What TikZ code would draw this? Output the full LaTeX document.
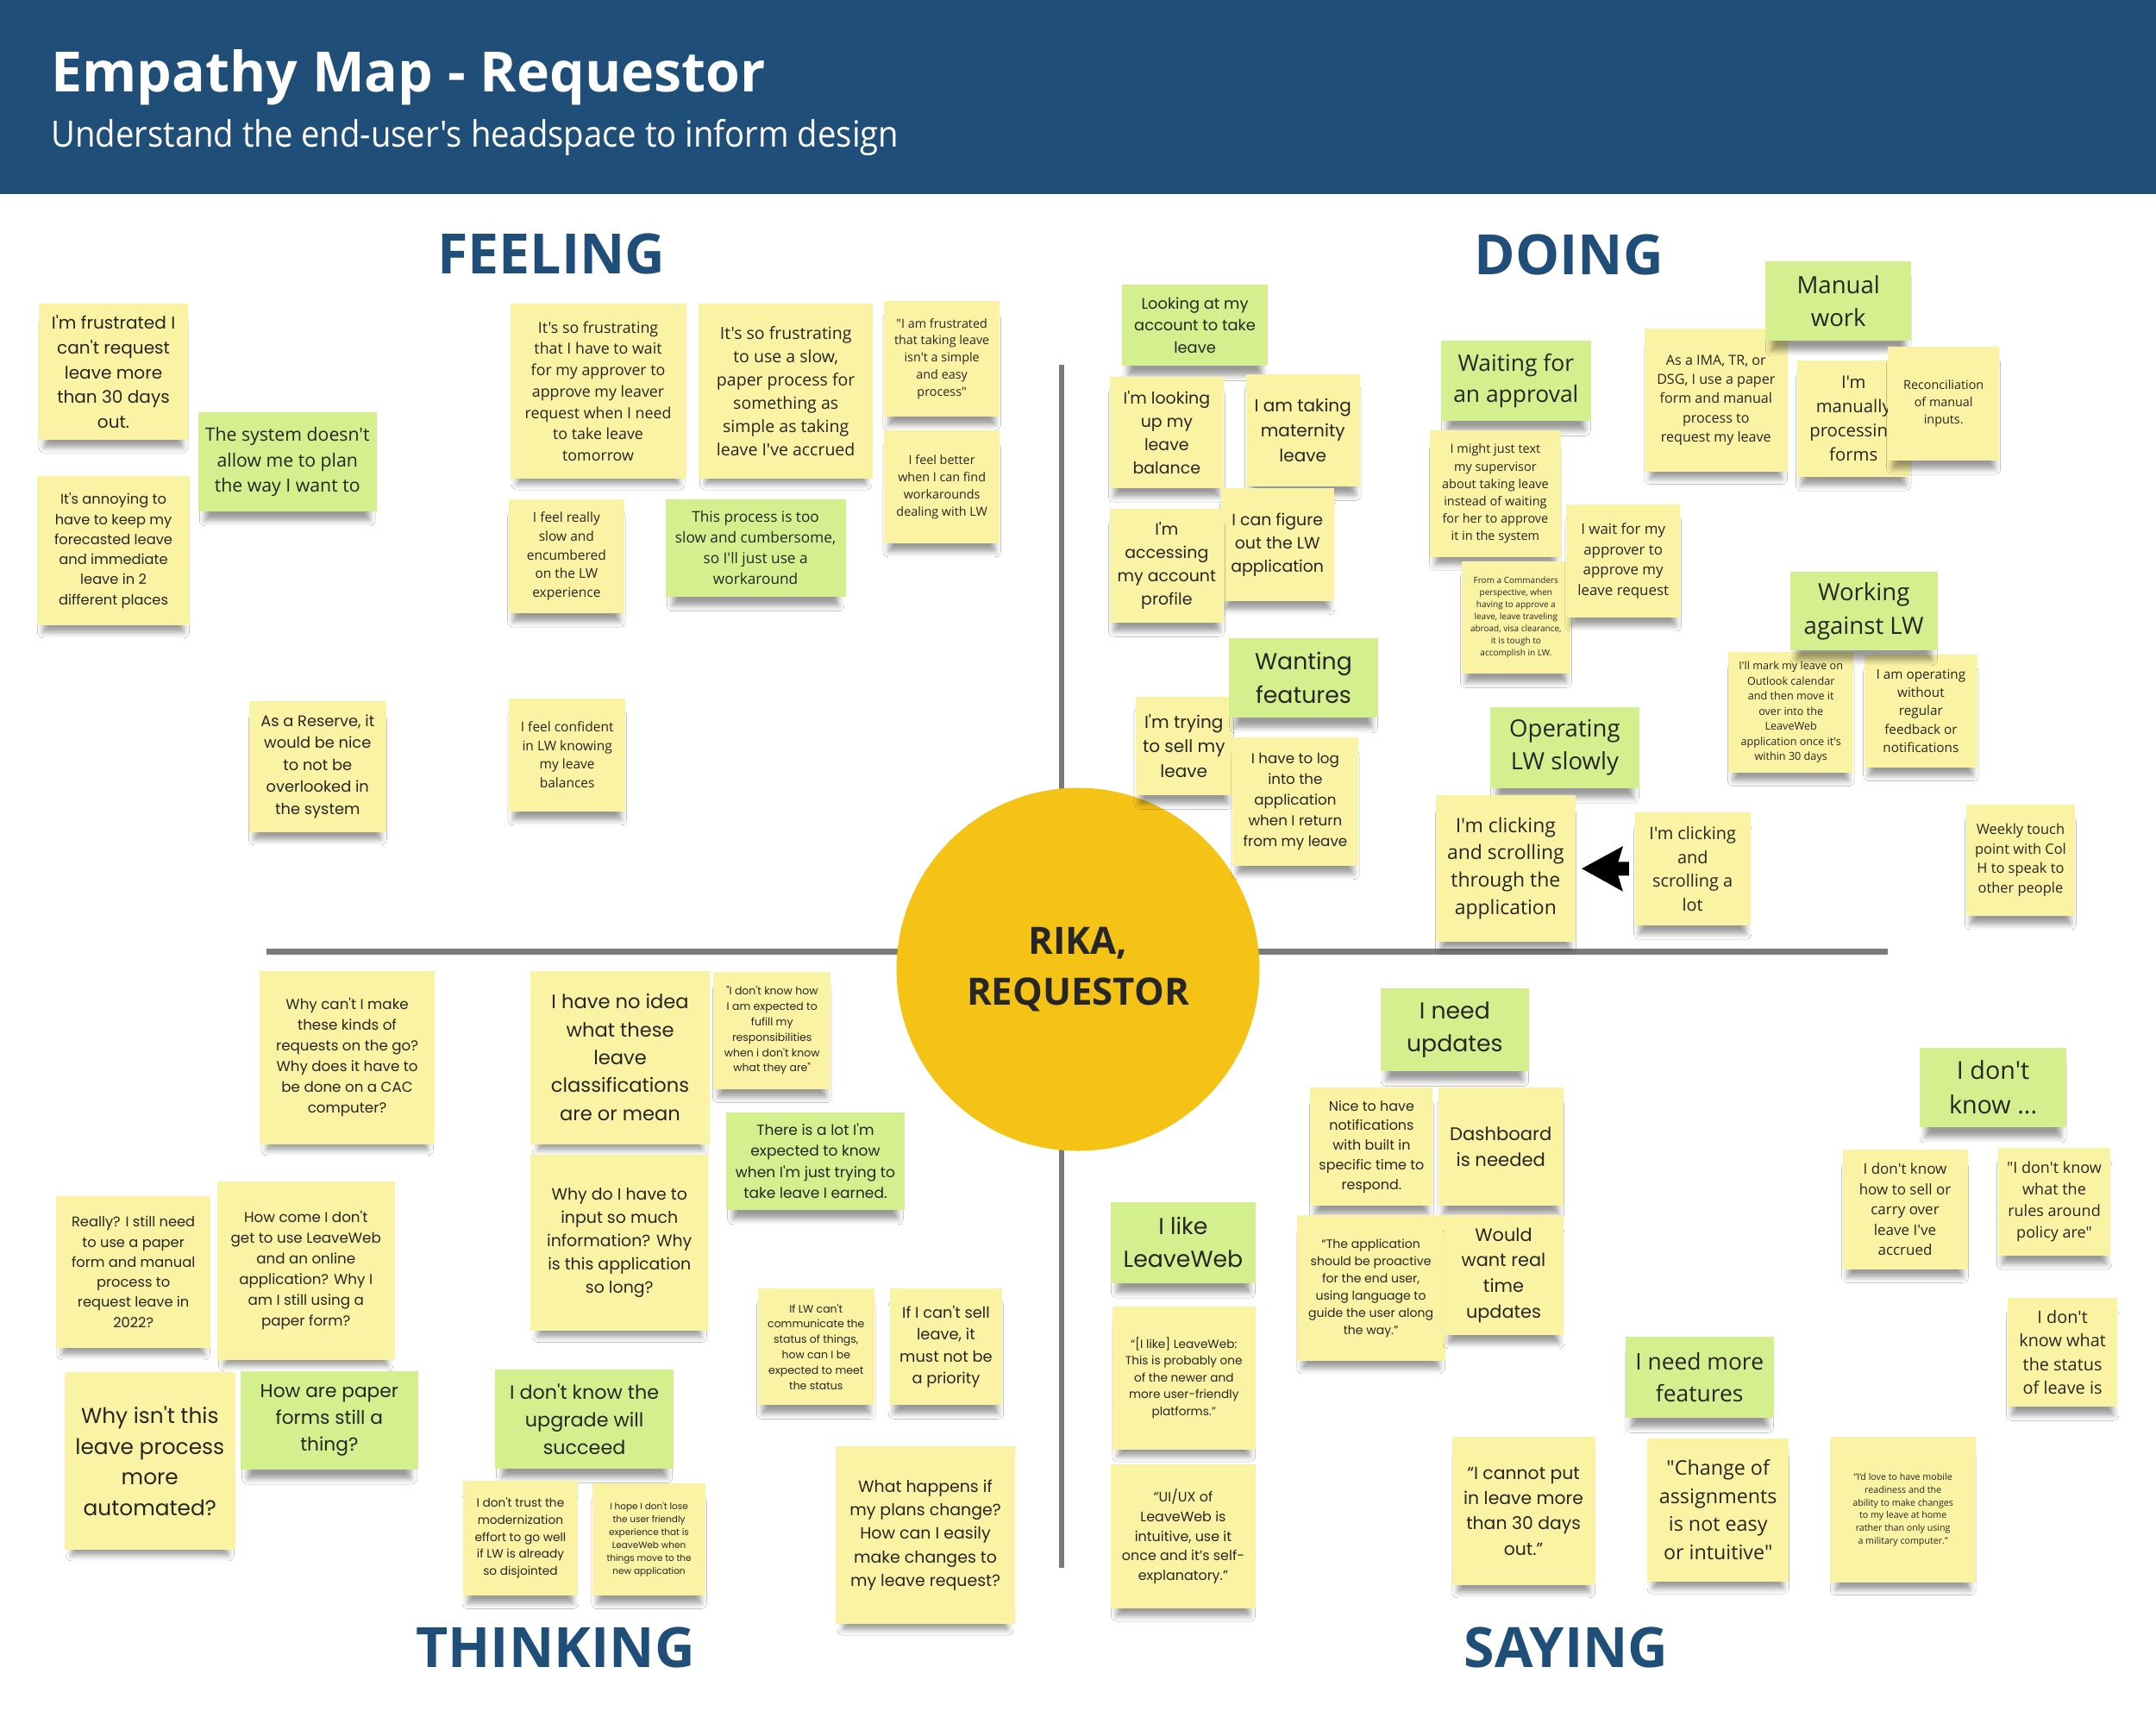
\documentclass[tikz,border=0pt]{standalone}
\usepackage{fontspec}
\setmainfont{Open Sans}[Ligatures=TeXOff]
\newfontfamily\geofont{Poppins}[Scale=0.97,Ligatures=TeXOff]
\newfontfamily\condfont{Open Sans}[FakeStretch=0.91,Ligatures=TeXOff]
\usetikzlibrary{arrows.meta,shadows.blur}
\definecolor{headblue}{HTML}{1F4E79}
\definecolor{noteyellow}{HTML}{FBF3A4}
\definecolor{notegreen}{HTML}{D4F08E}
\definecolor{notetext}{HTML}{262626}
\definecolor{personagold}{HTML}{F5C216}
\definecolor{axisgray}{HTML}{7A7A7A}

\begin{document}
\begin{tikzpicture}[x=0.02cm, y=-0.02cm,
  note/.style={fill=noteyellow, text=notetext, align=center, inner sep=0pt,
    blur shadow={shadow xshift=0pt, shadow yshift=-2mm, shadow scale=0.92, shadow blur radius=0.9mm, shadow opacity=40}},
  hint/.style={note, fill=notegreen},
  geo/.style={execute at begin node=\geofont},
  sz/.style 2 args={minimum width=#1*0.02cm, minimum height=#2*0.02cm},
  fs/.code={\pgfmathsetmacro\fsz{#1*0.41}\pgfmathsetmacro\fsb{#1*0.569}%
    \edef\fsset{\noexpand\fontsize{\fsz}{\fsb}\noexpand\selectfont}%
    \pgfkeysalso{/tikz/font/.expand once=\fsset}},
  quad/.style={text=headblue, inner sep=0pt, font=\bfseries\fontsize{23}{28}\selectfont},
  axis/.style={draw=axisgray, line width=0.8mm}]
  \useasboundingbox (0,0) rectangle (1568,1244);
  \fill[white] (0,0) rectangle (1568,1244);
  \fill[headblue] (0,0) rectangle (1568,141);
  \node[anchor=base west, inner sep=0pt, text=white, font=\bfseries\fontsize{23}{28}\selectfont] (title) at (37,67) {Empathy Map - Requestor};
  \node[anchor=base west, inner sep=0pt, text=white, font=\condfont\fontsize{15}{18}\selectfont] (subtitle) at (37,107) {Understand the end-user's headspace to inform design};

  \draw[axis] (194,692) -- (1373,692);
  \draw[axis] (772,265) -- (772,1140);
  \node[circle, fill=personagold, minimum size=264*0.02cm, align=center, text=notetext,
    font=\bfseries\fontsize{15.6}{21}\selectfont] (persona) at (784,705) {RIKA,\\REQUESTOR};

  \node[quad] (feeling) at (401,185) {FEELING};
  \node[quad] (doing) at (1141,185) {DOING};
  \node[quad] (thinking) at (404,1198) {THINKING};
  \node[quad] (saying) at (1139,1198) {SAYING};

  \node[note, geo, sz={109}{99}, fs=18] (f1) at (82.5,270.5) {I'm frustrated I\\can't request\\leave more\\than 30 days\\out.};
  \node[hint, sz={130}{72}, fs=18.5] (f2) at (209,336) {The system doesn't\\allow me to plan\\the way I want to};
  \node[note, geo, sz={111}{109}, fs=14.6] (f3) at (82.5,400.5) {It's annoying to\\have to keep my\\forecasted leave\\and immediate\\leave in 2\\different places};
  \node[note, geo, sz={100}{95}, fs=16] (f4) at (231,557.5) {As a Reserve, it\\would be nice\\to not be\\overlooked in\\the system};
  \node[note, sz={128}{127}, fs=15.5] (f5) at (435,284.5) {It's so frustrating\\that I have to wait\\for my approver to\\approve my leaver\\request when I need\\to take leave\\tomorrow};
  \node[note, sz={127}{127}, fs=17] (f6) at (571.5,284.5) {It's so frustrating\\to use a slow,\\paper process for\\something as\\simple as taking\\leave I've accrued};
  \node[note, sz={84}{84}, fs=12.5] (f7) at (685,261) {"I am frustrated\\that taking leave\\isn't a simple\\and easy\\process"};
  \node[note, sz={84}{82}, fs=12.5] (f8) at (685,354) {I feel better\\when I can find\\workarounds\\dealing with LW};
  \node[note, sz={84}{83}, fs=13.5] (f9) at (412,404.5) {I feel really\\slow and\\encumbered\\on the LW\\experience};
  \node[hint, sz={131}{71}, fs=15] (f10) at (549.5,398.5) {This process is too\\slow and cumbersome,\\so I'll just use a\\workaround};
  \node[note, sz={85}{82}, fs=13.5] (f11) at (412.5,549) {I feel confident\\in LW knowing\\my leave\\balances};

  \node[hint, geo, sz={106}{59}, fs=16] (d1) at (869,236.5) {Looking at my\\account to take\\leave};
  \node[note, geo, sz={83}{81}, fs=17] (d2) at (848.5,314.5) {I'm looking\\up my\\leave\\balance};
  \node[note, geo, sz={83}{82}, fs=18] (d3) at (947.5,313) {I am taking\\maternity\\leave};
  \node[note, geo, sz={82}{82}, fs=17] (d5) at (929,396) {I can figure\\out the LW\\application};
  \node[note, geo, sz={83}{83}, fs=17] (d4) at (848.5,411.5) {I'm\\accessing\\my account\\profile};
  \node[note, geo, sz={70}{71}, fs=18] (d7) at (861,542.5) {I'm trying\\to sell my\\leave};
  \node[note, geo, sz={92}{94}, fs=15] (d8) at (942,583) {I have to log\\into the\\application\\when I return\\from my leave};
  \node[hint, geo, sz={108}{58}, fs=24] (d6) at (948,493) {Wanting\\features};
  \node[hint, sz={109}{58}, fs=23] (d9) at (1102.5,277) {Waiting for\\an approval};
  \node[note, sz={95}{92}, fs=12.6] (d10) at (1087.5,359) {I might just text\\my supervisor\\about taking leave\\instead of waiting\\for her to approve\\it in the system};
  \node[note, sz={79}{82}, fs=8.7] (d11) at (1102.5,449) {From a Commanders\\perspective, when\\having to approve a\\leave, leave traveling\\abroad, visa clearance,\\it is tough to\\accomplish in LW.};
  \node[note, sz={83}{82}, fs=14.7] (d12) at (1180.5,408) {I wait for my\\approver to\\approve my\\leave request};
  \node[note, sz={104}{104}, fs=14] (d14) at (1248,291) {As a IMA, TR, or\\DSG, I use a paper\\form and manual\\process to\\request my leave};
  \node[hint, sz={106}{58}, fs=24] (d13) at (1337,219) {Manual\\work};
  \node[note, sz={82}{85}, fs=17.7] (d15) at (1348,304.5) {I'm\\manually\\processing\\forms};
  \node[note, sz={81}{83}, fs=12.5] (d16) at (1413.5,293.5) {Reconciliation\\of manual\\inputs.};
  \node[note, sz={91}{88}, fs=11] (d18) at (1302.5,518) {I'll mark my leave on\\Outlook calendar\\and then move it\\over into the\\LeaveWeb\\application once it's\\within 30 days};
  \node[note, sz={82}{82}, fs=13.3] (d19) at (1397,517) {I am operating\\without\\regular\\feedback or\\notifications};
  \node[hint, sz={107}{57}, fs=24] (d17) at (1355.5,444.5) {Working\\against LW};
  \node[hint, sz={108}{59}, fs=24] (d20) at (1138,543.5) {Operating\\LW slowly};
  \node[note, sz={102}{107}, fs=20] (d21) at (1095,631.5) {I'm clicking\\and scrolling\\through the\\application};
  \node[note, sz={84}{82}, fs=17.3] (d22) at (1231,632) {I'm clicking\\and\\scrolling a\\lot};
  \node[note, sz={79}{81}, fs=14.3] (d23) at (1469.5,625.5) {Weekly touch\\point with Col\\H to speak to\\other people};
  \draw[-{Stealth[length=6mm, width=6.6mm, inset=1mm, line width=0pt]}, line width=2mm,
    shorten <=0.8mm, shorten >=0.8mm] (d22) -- (d21);

  \node[note, geo, sz={127}{126}, fs=15] (t1) at (252.5,769) {Why can't I make\\these kinds of\\requests on the go?\\Why does it have to\\be done on a CAC\\computer?};
  \node[note, geo, sz={130}{126}, fs=20.3] (t2) at (451,769) {I have no idea\\what these\\leave\\classifications\\are or mean};
  \node[note, geo, sz={85}{85}, fs=11.2] (t3) at (561.5,749.5) {"I don't know how\\I am expected to\\fufill my\\responsibilities\\when i don't know\\what they are"};
  \node[hint, geo, sz={130}{71}, fs=15.3] (t4) at (593,844.5) {There is a lot I'm\\expected to know\\when I'm just trying to\\take leave I earned.};
  \node[note, geo, sz={129}{128}, fs=17] (t5) at (450.5,904) {Why do I have to\\input so much\\information? Why\\is this application\\so long?};
  \node[note, geo, sz={112}{110}, fs=14.6] (t6) at (97,925) {Really? I still need\\to use a paper\\form and manual\\process to\\request leave in\\2022?};
  \node[note, geo, sz={129}{130}, fs=15] (t7) at (222.5,924) {How come I don't\\get to use LeaveWeb\\and an online\\application? Why I\\am I still using a\\paper form?};
  \node[note, geo, sz={124}{129}, fs=22.3] (t8) at (109,1062.5) {Why isn't this\\leave process\\more\\automated?};
  \node[hint, geo, sz={129}{72}, fs=19.5] (t9) at (239.5,1033) {How are paper\\forms still a\\thing?};
  \node[hint, geo, sz={130}{72}, fs=20] (t10) at (425,1032) {I don't know the\\upgrade will\\succeed};
  \node[note, geo, sz={83}{83}, fs=12.3] (t11) at (378.5,1118.5) {I don't trust the\\modernization\\effort to go well\\if LW is already\\so disjointed};
  \node[note, geo, sz={82}{81}, fs=9.4] (t12) at (472,1119.5) {I hope I don't lose\\the user friendly\\experience that is\\LeaveWeb when\\things move to the\\new application};
  \node[note, geo, sz={85}{85}, fs=11.2] (t13) at (593.5,979.5) {If LW can't\\communicate the\\status of things,\\how can I be\\expected to meet\\the status};
  \node[note, geo, sz={82}{85}, fs=16] (t14) at (688,979.5) {If I can't sell\\leave, it\\must not be\\a priority};
  \node[note, geo, sz={130}{129}, fs=17] (t15) at (673,1116.5) {What happens if\\my plans change?\\How can I easily\\make changes to\\my leave request?};

  \node[hint, geo, sz={105}{59}, fs=24] (s1) at (860.5,903.5) {I like\\LeaveWeb};
  \node[note, geo, sz={104}{104}, fs=12.25] (s2) at (861,1002) {“[I like] LeaveWeb:\\This is probably one\\of the newer and\\more user-friendly\\platforms.”};
  \node[note, geo, sz={105}{105}, fs=14.3] (s3) at (860.5,1117.5) {“UI/UX of\\LeaveWeb is\\intuitive, use it\\once and it’s self-\\explanatory.”};
  \node[hint, geo, sz={108}{60}, fs=24] (s4) at (1058,749) {I need\\updates};
  \node[note, geo, sz={89}{86}, fs=14.3] (s5) at (997.5,834) {Nice to have\\notifications\\with built in\\specific time to\\respond.};
  \node[note, geo, sz={91}{86}, fs=19] (s6) at (1091.5,834) {Dashboard\\is needed};
  \node[note, geo, sz={108}{106}, fs=12.6] (s7) at (997,937) {“The application\\should be proactive\\for the end user,\\using language to\\guide the user along\\the way.”};
  \node[note, geo, sz={87}{87}, fs=18.7] (s8) at (1093.5,927.5) {Would\\want real\\time\\updates};
  \node[note, geo, sz={104}{108}, fs=18.3] (s9) at (1108,1099) {“I cannot put\\in leave more\\than 30 days\\out.”};
  \node[hint, sz={108}{59}, fs=23] (s10) at (1236,1001.5) {I need more\\features};
  \node[note, sz={103}{104}, fs=20.3] (s11) at (1249.5,1098) {"Change of\\assignments\\is not easy\\or intuitive"};
  \node[note, sz={106}{106}, fs=9.3] (s12) at (1384,1098) {“I’d love to have mobile\\readiness and the\\ability to make changes\\to my leave at home\\rather than only using\\a military computer.”};
  \node[hint, sz={107}{58}, fs=25] (s13) at (1449.5,791) {I don't\\know ...};
  \node[note, sz={91}{87}, fs=14.8] (s14) at (1385.5,879.5) {I don't know\\how to sell or\\carry over\\leave I've\\accrued};
  \node[note, sz={82}{78}, fs=15.7] (s15) at (1494,874) {"I don't know\\what the\\rules around\\policy are"};
  \node[note, sz={80}{79}, fs=17.3] (s16) at (1500,983.5) {I don't\\know what\\the status\\of leave is};
\end{tikzpicture}
\end{document}
